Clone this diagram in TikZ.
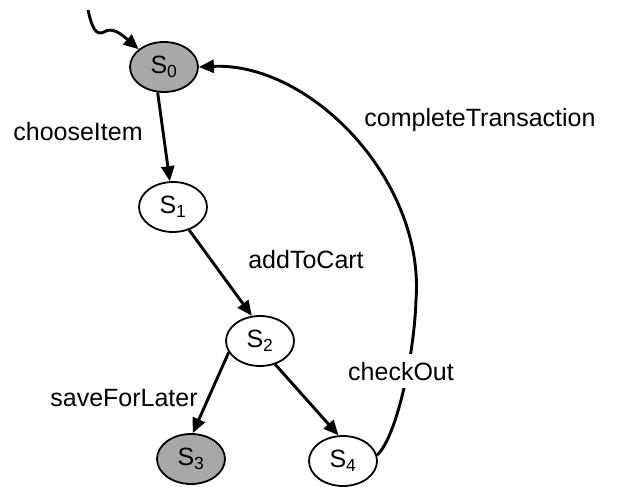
\documentclass[tikz,border=0pt]{standalone}
\usepackage{fontspec}
\setmainfont{Liberation Sans}
\usetikzlibrary{arrows.meta,shapes.geometric}
\definecolor{stategray}{RGB}{168,168,168}
\tikzset{
  state/.style={ellipse, draw, line width=1.8pt, minimum width=68pt, minimum height=50pt, inner sep=0pt, font=\fontsize{25}{29}\selectfont},
  final/.style={state, fill=stategray},
  edge/.style={line width=2.9pt, -{Triangle[length=15pt,width=13pt]}},
  lbl/.style={font=\fontsize{25}{29}\selectfont, inner sep=1pt, anchor=base}
}
\begin{document}
\begin{tikzpicture}[x=1pt,y=-1pt]
\useasboundingbox (0,0) rectangle (621,487);
\node[final] (S0) at (164,67) {S\textsubscript{0}};
\node[state] (S1) at (173,207) {S\textsubscript{1}};
\node[state] (S2) at (260,341) {S\textsubscript{2}};
\node[final] (S3) at (191,459) {S\textsubscript{3}};
\node[state] (S4) at (343,461) {S\textsubscript{4}};
\coordinate (start) at (88,10);
\draw[edge] (start) .. controls (92,28) and (96,36) .. (104,32) .. controls (112,27) and (120,33) .. (S0.145);
\draw[edge] (S0.256) -- (S1.97);
\draw[edge] (S1.-55) -- (S2.108);
\draw[edge] (S2.200) -- (S3.86);
\draw[edge] (S2.-57) -- (S4.100);
\draw[edge] (S4.10) .. controls (395,440) and (414,360) .. (416,300) .. controls (425,180) and (310,62) .. (S0.east);
\node[lbl] (l1) at (78,140) {chooseItem};
\node[lbl] (l2) at (306,268) {addToCart};
\node[lbl] (l3) at (124,406) {saveForLater};
\node[lbl, fill=white, inner ysep=8pt] (l4) at (401,380) {checkOut};
\node[lbl] (l5) at (480,126) {completeTransaction};
\end{tikzpicture}
\end{document}
